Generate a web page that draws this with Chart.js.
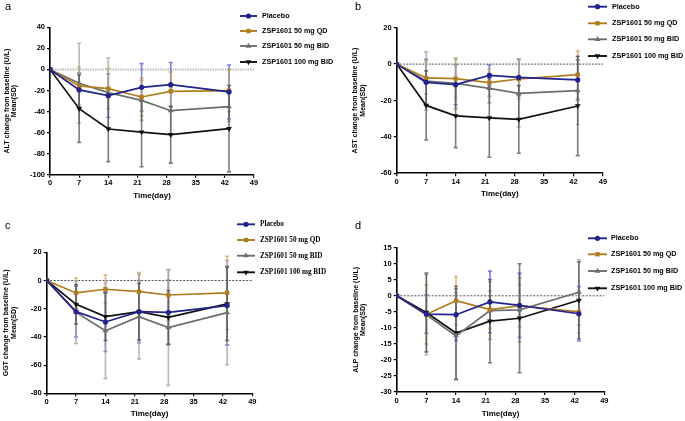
<!DOCTYPE html>
<html><head><meta charset="utf-8">
<script src="https://cdn.jsdelivr.net/npm/chart.js@4.4.1/dist/chart.umd.min.js"></script>
<style>
html,body{margin:0;padding:0;background:#fff;}
#wrap{position:relative;width:685px;height:421px;overflow:hidden;background:#fff;}
canvas{position:absolute;}
</style></head><body>
<div id="wrap">
<canvas id="ca" width="342" height="210" style="left:0;top:0"></canvas>
<canvas id="cb" width="343" height="210" style="left:342px;top:0"></canvas>
<canvas id="cc" width="342" height="211" style="left:0;top:210px"></canvas>
<canvas id="cd" width="343" height="211" style="left:342px;top:210px"></canvas>
</div>
<script>
// ---- data ----
const days = [0, 7, 14, 22, 29, 43];
const seriesNames = ['Placebo', 'ZSP1601 50 mg QD', 'ZSP1601 50 mg BID', 'ZSP1601 100 mg BID'];
const xTicks = [0, 7, 14, 21, 28, 35, 42, 49];

// ALT (panel a)
const altPlacebo   = [0, -19.5, -24.9, -17.0, -14.5, -21.4];
const altPlaceboSD = [0, 16, 20.5, 22.5, 21, 25.5];
const altQD        = [0, -15.7, -18.2, -26.2, -20.8, -20.2];
const altQDSD      = [0, 18, 19, 18, 18.5, 20];
const altBID50     = [0, -13.2, -22.1, -29.4, -39.2, -35.4];
const altBID50SD   = [0, 38, 33, 19, 22, 14];
const altBID100    = [0, -37.3, -56.6, -59.5, -62.0, -56.3];
const altBID100SD  = [0, 32, 31, 33, 27, 41];

// AST (panel b)
const astPlacebo   = [0, -10.0, -11.3, -6.2, -7.3, -8.7];
const astPlaceboSD = [0, 12.6, 11, 5.7, 10, 11];
const astQD        = [0, -7.6, -8.0, -10.2, -8.2, -5.8];
const astQDSD      = [0, 9, 10.5, 7.5, 11, 13];
const astBID50     = [0, -9.3, -10.6, -13.3, -16.1, -14.6];
const astBID50SD   = [0, 16, 14, 8, 18.5, 18.6];
const astBID100    = [0, -22.7, -28.4, -29.6, -30.4, -23.0];
const astBID100SD  = [0, 19, 17.5, 21.6, 18.6, 27.3];

// GGT (panel c)
const ggtPlacebo   = [0, -22.1, -29.4, -22.1, -22.6, -17.8];
const ggtPlaceboSD = [0, 18, 21, 22, 23, 28];
const ggtQD        = [0, -8.8, -6.2, -7.9, -10.3, -8.8];
const ggtQDSD      = [0, 10.6, 10, 13.5, 18, 26];
const ggtBID50     = [0, -22.6, -35.6, -25.6, -33.4, -22.8];
const ggtBID50SD   = [0, 22, 34, 30, 41, 37];
const ggtBID100    = [0, -16.9, -25.6, -22.1, -26.1, -16.6];
const ggtBID100SD  = [0, 14, 17, 20, 19, 26];

// ALP (panel d)
const alpPlacebo   = [0, -5.7, -5.9, -1.9, -3.0, -5.6];
const alpPlaceboSD = [0, 6, 8, 9.6, 10, 8.5];
const alpQD        = [0, -5.8, -1.5, -4.3, -3.1, -5.0];
const alpQDSD      = [0, 9.2, 7.5, 5.8, 6.6, 6.5];
const alpBID50     = [0, -5.9, -12.5, -4.6, -4.4, 1.1];
const alpBID50SD   = [0, 12.5, 13.4, 9, 10, 10.2];
const alpBID100    = [0, -5.2, -11.6, -7.9, -7.0, -1.4];
const alpBID100SD  = [0, 12.3, 14.6, 13, 17, 12];

// ---- styles ----
const STY = [
  {color:'#23238c', err:'rgba(60,60,200,0.65)',  shape:'circle',   rot:0,   r:2.6},
  {color:'#b07d1e', err:'rgba(200,150,60,0.65)', shape:'rect',     rot:0,   r:3.1},
  {color:'#6e6e6e', err:'rgba(160,160,160,0.75)', shape:'triangle', rot:0,  r:3.3},
  {color:'#111111', err:'rgba(70,70,70,0.7)',    shape:'triangle', rot:180, r:3.3}
];
const SANS = '"Liberation Sans", Arial, sans-serif';
const SERIF = '"Liberation Serif", "Times New Roman", serif';

const overlay = {
  id:'overlay',
  beforeDatasetsDraw(chart, args, o){
    const ctx = chart.ctx, xs = chart.scales.x, ys = chart.scales.y, ca = chart.chartArea;
    ctx.save();
    const y0 = ys.getPixelForValue(0);
    ctx.strokeStyle = o.zeroColor; ctx.lineWidth = o.zeroWidth; ctx.setLineDash(o.zeroDash);
    ctx.beginPath(); ctx.moveTo(ca.left, y0); ctx.lineTo(ca.right, y0); ctx.stroke();
    ctx.setLineDash([]);
    chart.data.datasets.forEach((ds, i) => {
      ctx.strokeStyle = STY[i].err; ctx.lineWidth = 1.6;
      ds.sd.forEach((s, j) => {
        if (!s) return;
        const p = ds.data[j];
        const x = xs.getPixelForValue(p.x);
        const yt = ys.getPixelForValue(p.y + s), yb = ys.getPixelForValue(p.y - s);
        ctx.beginPath();
        ctx.moveTo(x, yt); ctx.lineTo(x, yb);
        ctx.moveTo(x-2, yt); ctx.lineTo(x+2, yt);
        ctx.moveTo(x-2, yb); ctx.lineTo(x+2, yb);
        ctx.stroke();
      });
    });
    ctx.restore();
  },
  afterDraw(chart, args, o){
    const ctx = chart.ctx, ca = chart.chartArea;
    ctx.save();
    ctx.fillStyle = '#000';
    ctx.font = '11px ' + SANS; ctx.textAlign = 'left'; ctx.textBaseline = 'alphabetic';
    ctx.fillText(o.letter, o.letterX, o.letterY);
    ctx.font = 'bold 8px ' + SANS; ctx.textAlign = 'center'; ctx.textBaseline = 'middle';
    ctx.fillText('Time(day)', (ca.left + ca.right)/2, o.xTitleY);
    ctx.font = 'bold 7px ' + SANS;
    const cy = (ca.top + ca.bottom)/2;
    o.yTitle.forEach((t, k) => {
      ctx.save(); ctx.translate(o.yTitleX[k], cy); ctx.rotate(-Math.PI/2);
      ctx.fillText(t, 0, 0); ctx.restore();
    });
    ctx.font = 'bold 7.2px ' + (o.serif ? SERIF : SANS);
    ctx.textAlign = 'left'; ctx.textBaseline = 'middle';
    seriesNames.forEach((n, k) => {
      const y = o.legY[k], x0 = o.legX, x1 = o.legX + o.legW;
      ctx.strokeStyle = STY[k].color; ctx.fillStyle = STY[k].color; ctx.lineWidth = 1.9;
      ctx.beginPath(); ctx.moveTo(x0, y); ctx.lineTo(x1, y); ctx.stroke();
      Chart.helpers.drawPoint(ctx, {pointStyle: STY[k].shape, rotation: STY[k].rot, radius: STY[k].r, borderWidth: 0}, (x0+x1)/2, y);
      ctx.fillStyle = '#000';
      ctx.fillText(n, o.legTX, y);
    });
    ctx.restore();
  }
};

function makePanel(id, P){
  const datasets = P.vals.map((v, k) => ({
    label: seriesNames[k],
    data: days.map((d, j) => ({x: d, y: v[j]})),
    sd: P.sds[k],
    borderColor: STY[k].color, backgroundColor: STY[k].color,
    borderWidth: 1.7, pointStyle: STY[k].shape, pointRotation: STY[k].rot,
    pointRadius: STY[k].r, pointBorderWidth: 0, tension: 0, fill: false
  }));
  const tickFont = {family: SANS, size: 7.5, weight: 'bold'};
  new Chart(document.getElementById(id), {
    type: 'line',
    data: {datasets},
    options: {
      responsive: false, animation: false,
      layout: {padding: {left: 0, top: P.top, right: P.padR, bottom: 0}},
      plugins: {legend: {display: false}, tooltip: {enabled: false}, overlay: P.ov},
      scales: {
        x: {type: 'linear', min: 0, max: 49,
            afterBuildTicks: s => { s.ticks = xTicks.map(v => ({value: v})); },
            ticks: {font: tickFont, color: '#000', padding: 1, maxRotation: 0, autoSkip: false},
            grid: {display: true, drawOnChartArea: false, drawTicks: true, tickLength: 3, color: '#000', lineWidth: 1.2},
            border: {display: true, color: '#000', width: 1.6},
            afterFit: s => { s.height = P.xH; }},
        y: {type: 'linear', min: P.ymin, max: P.ymax,
            ticks: {stepSize: P.step, font: tickFont, color: '#000', padding: 2},
            grid: {display: true, drawOnChartArea: false, drawTicks: true, tickLength: 3, color: '#000', lineWidth: 1.2},
            border: {display: true, color: '#000', width: 1.6},
            afterFit: s => { s.width = P.yW; }}
      }
    },
    plugins: [overlay]
  });
}

makePanel('ca', {
  vals: [altPlacebo, altQD, altBID50, altBID100],
  sds: [altPlaceboSD, altQDSD, altBID50SD, altBID100SD],
  ymin: -100, ymax: 40, step: 20, top: 27.3, padR: 88, xH: 35.3, yW: 50,
  ov: {letter: 'a', letterX: 5, letterY: 9.5, xTitleY: 196, yTitle: ['ALT change from baseline (U/L)', 'Mean(SD)'], yTitleX: [6.8, 14],
       legX: 240, legW: 17, legTX: 262, legY: [16, 31, 46, 62], serif: false,
       zeroColor: '#bdbdbd', zeroWidth: 2, zeroDash: [1.5, 1]}
});
makePanel('cb', {
  vals: [astPlacebo, astQD, astBID50, astBID100],
  sds: [astPlaceboSD, astQDSD, astBID50SD, astBID100SD],
  ymin: -60, ymax: 20, step: 20, top: 27.7, padR: 82, xH: 36.7, yW: 54.7,
  ov: {letter: 'b', letterX: 13, letterY: 9.5, xTitleY: 194, yTitle: ['AST change from baseline (U/L)', 'Mean(SD)'], yTitleX: [13.5, 21],
       legX: 246, legW: 19, legTX: 270, legY: [6.7, 23.3, 39.3, 56], serif: false,
       zeroColor: '#555', zeroWidth: 1, zeroDash: [2, 1.2]}
});
makePanel('cc', {
  vals: [ggtPlacebo, ggtQD, ggtBID50, ggtBID100],
  sds: [ggtPlaceboSD, ggtQDSD, ggtBID50SD, ggtBID100SD],
  ymin: -80, ymax: 20, step: 20, top: 42.3, padR: 89.7, xH: 27.7, yW: 46.7,
  ov: {letter: 'c', letterX: 5, letterY: 19, xTitleY: 204, yTitle: ['GGT change from baseline (U/L)', 'Mean(SD)'], yTitleX: [6, 14],
       legX: 237, legW: 18, legTX: 260, legY: [14.3, 30, 45.7, 62.3], serif: true,
       zeroColor: '#555', zeroWidth: 1, zeroDash: [2, 1.5]}
});
makePanel('cd', {
  vals: [alpPlacebo, alpQD, alpBID50, alpBID100],
  sds: [alpPlaceboSD, alpQDSD, alpBID50SD, alpBID100SD],
  ymin: -30, ymax: 15, step: 5, top: 37.7, padR: 80.7, xH: 29, yW: 54.7,
  ov: {letter: 'd', letterX: 13, letterY: 19, xTitleY: 203.3, yTitle: ['ALP change from baseline (U/L)', 'Mean(SD)'], yTitleX: [13.7, 21],
       legX: 246, legW: 19, legTX: 269, legY: [28.3, 44.3, 61, 78.3], serif: false,
       zeroColor: '#555', zeroWidth: 1, zeroDash: [2, 1.5]}
});
</script>
</body></html>
